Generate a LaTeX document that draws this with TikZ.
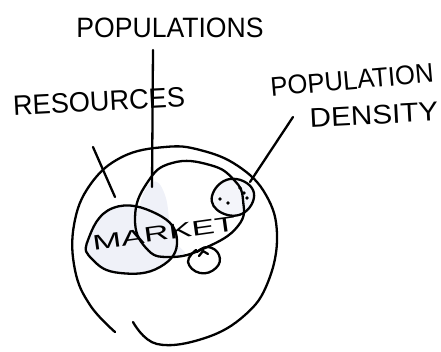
\documentclass[tikz,border=0pt]{standalone}
\usepackage{fontspec}
\setmainfont{Liberation Sans}
\usepackage{graphicx}
\definecolor{tint}{HTML}{EFF1F8}
\tikzset{
  ink/.style={line width=2.3pt, line cap=round, line join=round, black},
  lbl/.style={inner sep=0pt, font=\fontsize{28}{28}\selectfont}
}
\begin{document}
\begin{tikzpicture}[x=1pt,y=-1pt]
\useasboundingbox (0,0) rectangle (441,352);
% light fills
\fill[tint] plot[smooth cycle, tension=0.8] coordinates {(88,240) (113,208) (157,214) (177,240) (160,267) (120,273) (93,260)};
\fill[tint] plot[smooth cycle, tension=0.8] coordinates {(140,205) (152,182) (165,195) (172,235) (185,255) (160,252) (140,235)};
\fill[tint!70] plot[smooth cycle, tension=0.8] coordinates {(212,196) (230,179) (253,190) (245,212) (222,213)};
% outer region (open at lower left)
\draw[ink] plot[smooth, tension=0.7] coordinates {(133,322) (157,344) (205,338) (245,315) (268,282) (277,235) (266,195) (238,166) (200,150) (165,147) (122,157) (90,185) (74,225) (75,270) (90,305) (115,332)};
% populations ellipse
\draw[ink] plot[smooth cycle, tension=0.8] coordinates {(135,218) (147,183) (172,163) (210,165) (234,180) (243,200) (238,226) (205,248) (170,257) (146,248)};
% resources / market ellipse
\draw[ink] plot[smooth cycle, tension=0.8] coordinates {(88,240) (113,208) (157,214) (177,240) (160,267) (120,273) (93,260)};
% density ellipse
\draw[ink] plot[smooth cycle, tension=0.8] coordinates {(212,196) (230,179) (253,190) (245,212) (222,213)};
\foreach \p in {(220,199),(228,203),(240,188),(244,193),(247,198)}
  \fill \p circle (1.9pt);
% small circle
\draw[ink] plot[smooth, tension=0.8] coordinates {(196,250) (188,262) (200,273) (216,268) (219,255) (208,247) (197,252)};
\draw[ink] (199,256) -- (203,251) -- (208,254);
% labels
\node[lbl] (pops) at (170,28) {\scalebox{0.95}[1]{POPULATIONS}};
\node[lbl, rotate=3] (res) at (99,101) {\scalebox{0.97}[1]{RESOURCES}};
\node[lbl, rotate=5, font=\fontsize{27}{27}\selectfont] (pop) at (352,80) {\scalebox{0.95}[1]{POPULATION}};
\node[lbl, rotate=3, font=\fontsize{27}{27}\selectfont] (den) at (374,115) {\scalebox{1.1}[1]{DENSITY}};
\node[lbl, rotate=8, font=\fontsize{21}{21}\selectfont] (mkt) at (164,233) {\scalebox{1.65}[1]{MARKET}};
% leader lines
\coordinate (popsEnd) at (152,187);
\coordinate (resEnd) at (115,197);
\coordinate (denEnd) at (250,182);
\draw[ink] (153,50) -- (popsEnd);
\draw[ink] (93,147) -- (resEnd);
\draw[ink] (293,117) -- (denEnd);
\end{tikzpicture}
\end{document}
